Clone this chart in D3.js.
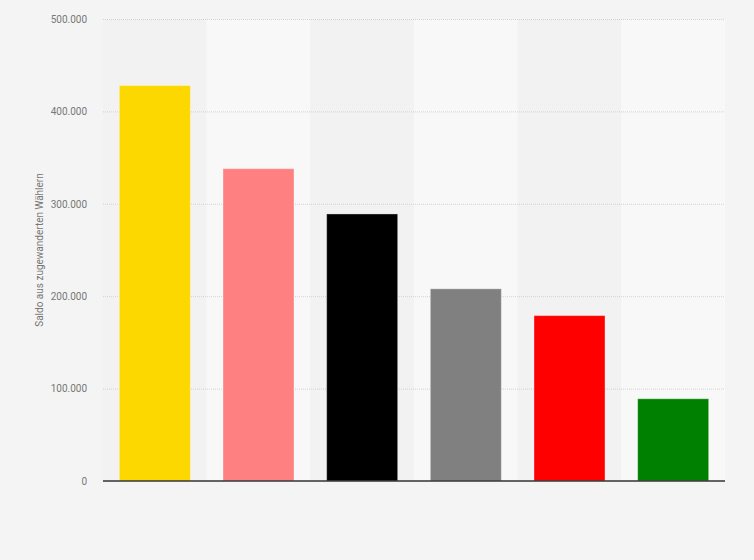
<!DOCTYPE html>
<html>
<head>
<meta charset="utf-8">
<script src="https://cdn.jsdelivr.net/npm/d3@7"></script>
<style>
  body { margin: 0; background: #f4f4f4; }
  svg { display: block; }
</style>
</head>
<body>
<svg id="drawing_region"></svg>
<script>
// Parteien (keine Beschriftung im Original sichtbar)
const parties = ['FDP', 'Piraten', 'CDU/CSU', 'Nichtwähler', 'SPD', 'Grüne'];
const values = [428000, 338000, 289000, 208000, 179000, 89000];
const colors = ['#fcd700', '#ff8080', '#000000', '#808080', '#ff0000', '#008000'];
const yTicks = [0, 100000, 200000, 300000, 400000, 500000];
const yTitle = 'Saldo aus zugewanderten Wählern';

const config = {
    width: 754,
    height: 560,
    margin: { top: 19, right: 29, bottom: 79, left: 103 },
};

const svg = d3.select('#drawing_region')
    .attr('width', config.width)
    .attr('height', config.height);

svg.append('rect')
    .attr('width', config.width)
    .attr('height', config.height)
    .attr('fill', '#f4f4f4');

const innerW = config.width - config.margin.left - config.margin.right;
const innerH = config.height - config.margin.top - config.margin.bottom;

const chart = svg.append('g')
    .attr('transform', `translate(${config.margin.left}, ${config.margin.top})`);

const x = d3.scaleBand()
    .domain(parties)
    .range([0, innerW])
    .padding(0);

const y = d3.scaleLinear()
    .domain([0, 500000])
    .range([innerH, 0]);

// alternating column shading
chart.selectAll('.col')
    .data(parties)
    .enter()
    .append('rect')
    .attr('class', 'col')
    .attr('x', d => x(d))
    .attr('y', 0)
    .attr('width', x.bandwidth())
    .attr('height', innerH)
    .attr('fill', (d, i) => i % 2 === 0 ? '#f2f2f2' : '#f8f8f8');

// grid lines
chart.selectAll('.grid')
    .data(yTicks.filter(d => d > 0))
    .enter()
    .append('line')
    .attr('class', 'grid')
    .attr('x1', 0)
    .attr('x2', innerW)
    .attr('y1', d => y(d) + 0.5)
    .attr('y2', d => y(d) + 0.5)
    .attr('stroke', '#d2d2d2')
    .attr('stroke-width', 1)
    .attr('stroke-dasharray', '1,1');

// y axis
const fmt = d => d3.format(',')(d).replace(/,/g, '.');
const yAxis = chart.append('g')
    .call(d3.axisLeft(y).tickValues(yTicks).tickFormat(fmt).tickSize(0).tickPadding(16));
yAxis.select('.domain').remove();
yAxis.selectAll('text')
    .attr('fill', '#777')
    .style('font-family', 'Roboto, Arial, sans-serif')
    .style('font-size', '10px');

// bars
const barW = x.bandwidth() * 0.685;
chart.selectAll('.bar')
    .data(values)
    .enter()
    .append('rect')
    .attr('class', 'bar')
    .attr('x', (d, i) => x(parties[i]) + (x.bandwidth() - barW) / 2)
    .attr('y', d => y(d))
    .attr('width', barW)
    .attr('height', d => innerH - y(d))
    .attr('fill', (d, i) => colors[i])
    .attr('stroke', 'rgba(255,255,255,0.35)')
    .attr('stroke-width', 1);

// baseline
chart.append('line')
    .attr('x1', 0)
    .attr('x2', innerW)
    .attr('y1', innerH)
    .attr('y2', innerH)
    .attr('stroke', '#333')
    .attr('stroke-width', 1.5);

// y title
svg.append('text')
    .attr('transform', `translate(43, ${config.margin.top + innerH / 2}) rotate(-90)`)
    .attr('text-anchor', 'middle')
    .attr('fill', '#777')
    .style('font-family', 'Roboto, Arial, sans-serif')
    .style('font-size', '10px')
    .text(yTitle);
</script>
</body>
</html>
